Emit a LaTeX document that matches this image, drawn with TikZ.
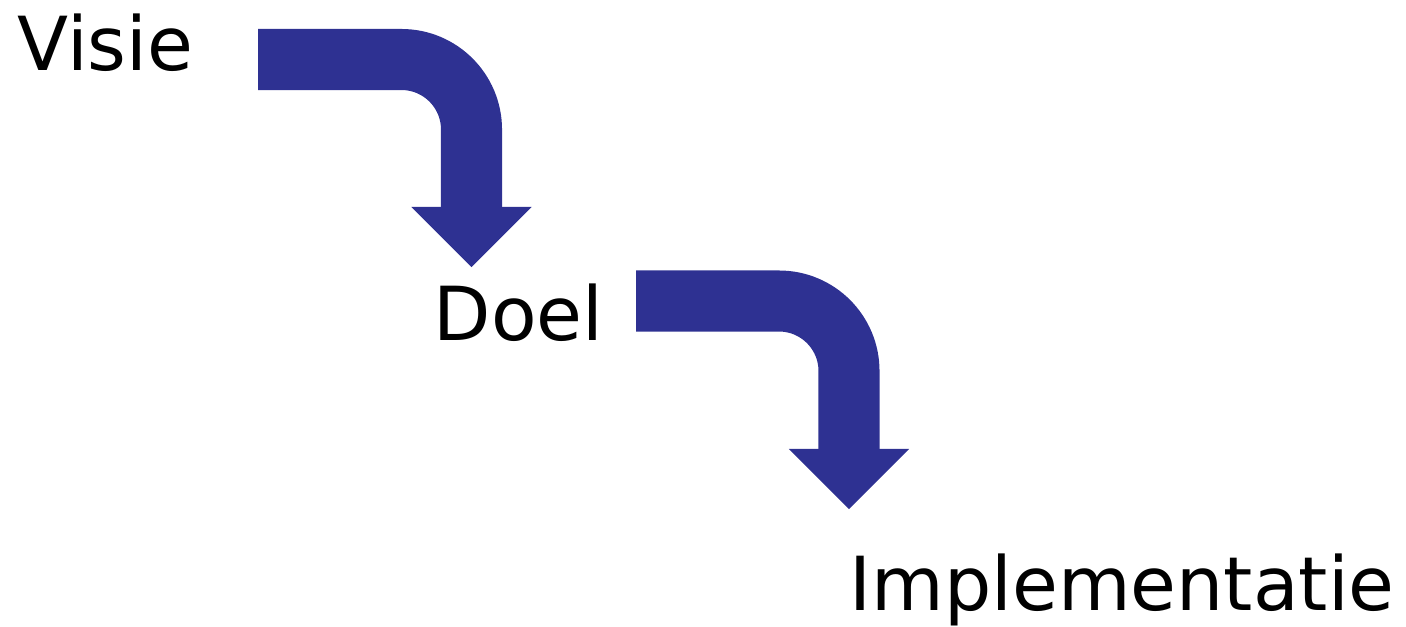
\documentclass[tikz,border=0pt]{standalone}
\usepackage{fontspec}
\setmainfont{DejaVu Sans}
\usetikzlibrary{arrows.meta}

\begin{document}
\begin{tikzpicture}[x=0.01cm, y=0.01cm]

		\tikzstyle{phase} = [inner sep=0pt, anchor=base west, font=\fontsize{21.2}{24}\selectfont]
		\tikzstyle{bendarrow} = [draw={rgb,255:red,46;green,49;blue,146}, line width=0.61cm, rounded corners=0.7cm,
			-{Triangle[length=0.6cm 0 0, width=1.2cm 0 0, line width=0pt 0 0, fill={rgb,255:red,46;green,49;blue,146}]}]

		\useasboundingbox (0,0) rectangle (1406,626);

		\node[phase](Visie) at (17,556){Visie};
		\node[phase](Doel) at (433,286){Doel};
		\node[phase](Impl) at (849,16){Implementatie};

		\coordinate (s1) at (258,566.5);
		\coordinate (t1) at (471.5,359);
		\coordinate (s2) at (636,325);
		\coordinate (t2) at (849,117);

		\draw[bendarrow] (s1) -| (t1);
		\draw[bendarrow] (s2) -| (t2);

\end{tikzpicture}
\end{document}
